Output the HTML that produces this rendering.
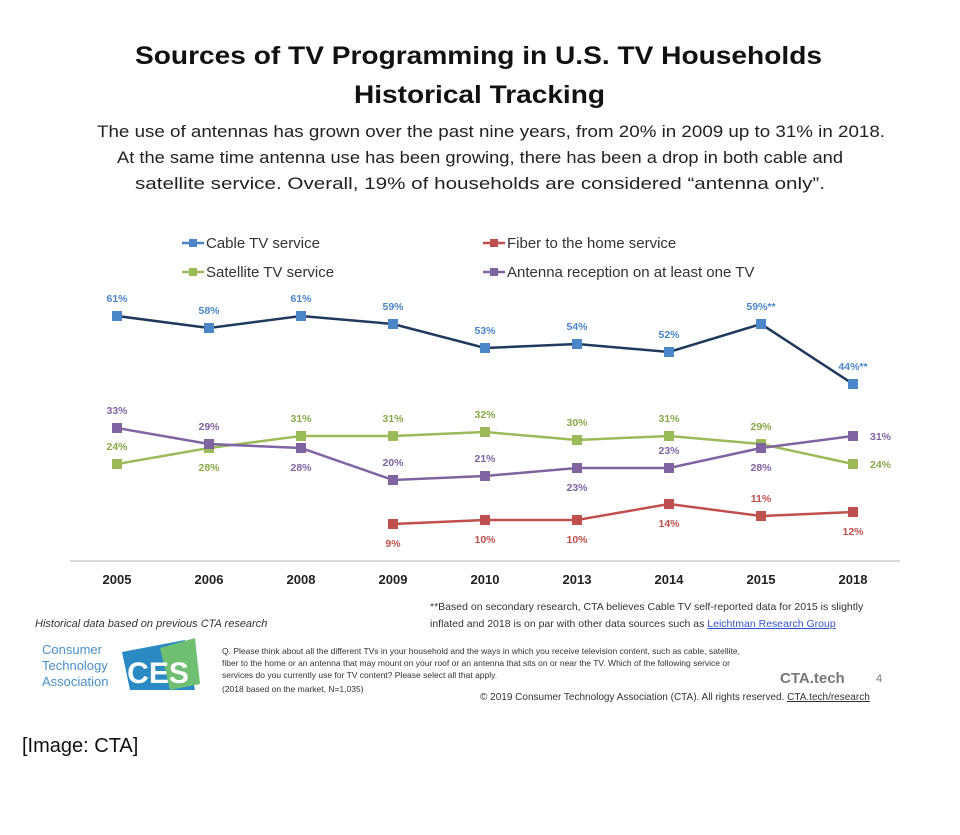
<!DOCTYPE html>
<html><head><meta charset="utf-8">
<style>
body{margin:0;background:#fff;width:960px;height:835px;overflow:hidden;font-family:"Liberation Sans",sans-serif;}
svg{position:absolute;left:0;top:0}
</style></head>
<body>
<svg id="chart" width="960" height="835">
<text x="135" y="64" textLength="687" lengthAdjust="spacingAndGlyphs" font-size="25" font-weight="bold" fill="#111">Sources of TV Programming in U.S. TV Households</text>
<text x="354" y="103" textLength="251" lengthAdjust="spacingAndGlyphs" font-size="25" font-weight="bold" fill="#111">Historical Tracking</text>
<g font-size="17" fill="#222">
<text x="97" y="137" textLength="788" lengthAdjust="spacingAndGlyphs">The use of antennas has grown over the past nine years, from 20% in 2009 up to 31% in 2018.</text>
<text x="117" y="163" textLength="726" lengthAdjust="spacingAndGlyphs">At the same time antenna use has been growing, there has been a drop in both cable and</text>
<text x="135" y="189" textLength="690" lengthAdjust="spacingAndGlyphs">satellite service. Overall, 19% of households are considered “antenna only”.</text>
</g>
<g id="legend" font-size="15" fill="#333"></g>
<line x1="70" y1="561" x2="900" y2="561" stroke="#ccc" stroke-width="1.5"/>
<g id="xticks" font-size="13" font-weight="bold" fill="#222" text-anchor="middle"></g>
<g id="series"></g>
<text x="35" y="627" font-size="11" font-style="italic" fill="#333">Historical data based on previous CTA research</text>
<g font-size="10.5" fill="#333">
<text x="430" y="610">**Based on secondary research, CTA believes Cable TV self-reported data for 2015 is slightly</text>
<text x="430" y="627">inflated and 2018 is on par with other data sources such as <tspan fill="#3355cc" text-decoration="underline">Leichtman Research Group</tspan></text>
</g>
<g>
<text x="42" y="654" font-size="13" fill="#4a90c8">Consumer</text>
<text x="42" y="670" font-size="13" fill="#4a90c8">Technology</text>
<text x="42" y="686" font-size="13" fill="#4a90c8">Association</text>
<polygon points="122,652 185,640 195,690 130,690" fill="#2b8ac4"/>
<polygon points="160,648 195,638 200,684 170,690" fill="#6fbf73"/>
<text x="158" y="683" font-size="30" font-weight="bold" fill="#fff" text-anchor="middle">CES</text>
</g>
<g font-size="8.5" fill="#333">
<text x="222" y="654">Q. Please think about all the different TVs in your household and the ways in which you receive television content, such as cable, satellite,</text>
<text x="222" y="666">fiber to the home or an antenna that may mount on your roof or an antenna that sits on or near the TV. Which of the following service or</text>
<text x="222" y="678">services do you currently use for TV content? Please select all that apply.</text>
<text x="222" y="692">(2018 based on the market, N=1,035)</text>
</g>
<text x="780" y="683" font-size="15" font-weight="bold" fill="#777">CTA.tech</text>
<text x="876" y="682" font-size="11" fill="#777">4</text>
<text x="480" y="700" font-size="10" fill="#333">© 2019 Consumer Technology Association (CTA). All rights reserved. <tspan text-decoration="underline">CTA.tech/research</tspan></text>
<text x="22" y="752" font-size="20" fill="#111">[Image: CTA]</text>
</svg>
<script>
const categories=["2005","2006","2008","2009","2010","2013","2014","2015","2018"];
const cableValues=[61,58,61,59,53,54,52,59,44];
const satelliteValues=[24,28,31,31,32,30,31,29,24];
const fiberValues=[null,null,null,9,10,10,14,11,12];
const antennaValues=[33,29,28,20,21,23,23,28,31];
const cableLabelPos=["a","a","a","a","a","a","a","a","a"];
const satelliteLabelPos=["a","b","a","a","a","a","a","a","r"];
const fiberLabelPos=[null,null,null,"b","b","b","b","a","b"];
const antennaLabelPos=["a","a","b","a","a","b","a","b","r"];
const cableSuffix=["","","","","","","","**","**"];
const NS="http://www.w3.org/2000/svg";
function xs(i){return 117+i*92;}
function ys(v){return 560-4*v;}
function mk(tag,attrs,parent){const e=document.createElementNS(NS,tag);for(const k in attrs)e.setAttribute(k,attrs[k]);parent.appendChild(e);return e;}
const xt=document.getElementById('xticks');
categories.forEach((c,i)=>{const t=mk('text',{x:xs(i),y:584},xt);t.textContent=c;

});
const series=[
 {name:'cable',vals:cableValues,pos:cableLabelPos,line:'#1f3a5f',mark:'#4a86c8',txt:'#4a86c8',label:'Cable TV service',suf:cableSuffix},
 {name:'satellite',vals:satelliteValues,pos:satelliteLabelPos,line:'#9bbb59',mark:'#9bbb59',txt:'#8aa84a',label:'Satellite TV service'},
 {name:'fiber',vals:fiberValues,pos:fiberLabelPos,line:'#c0504d',mark:'#c0504d',txt:'#c0504d',label:'Fiber to the home service'},
 {name:'antenna',vals:antennaValues,pos:antennaLabelPos,line:'#8064a2',mark:'#8064a2',txt:'#8064a2',label:'Antenna reception on at least one TV'}];
const sg=document.getElementById('series');
series.forEach(s=>{
 const g=mk('g',{},sg);
 
 
 let d='';s.vals.forEach((v,i)=>{if(v==null)return;d+=(d?'L':'M')+xs(i)+','+ys(v);});
 const p=mk('path',{d:d,fill:'none',stroke:s.line,'stroke-width':2.5},g);
 
 
 s.vals.forEach((v,i)=>{if(v==null)return;
  const r=mk('rect',{x:xs(i)-5,y:ys(v)-5,width:10,height:10,fill:s.mark},g);
  
  
  const pos=s.pos[i];let tx=xs(i),ty=ys(v)-14,anc='middle';
  if(pos==='b')ty=ys(v)+23;
  if(pos==='r'){tx=xs(i)+17;ty=ys(v)+4;anc='start';}
  const t=mk('text',{x:tx,y:ty,'text-anchor':anc,'font-size':10.5,'font-weight':'bold',fill:s.txt},g);
  t.textContent=v+'%'+(s.suf?s.suf[i]:'');
  
  
 });
});
const lg=document.getElementById('legend');
const lp=[[182,248],[182,277],[483,248],[483,277]];
series.forEach((s,i)=>{
 const g=mk('g',{},lg);
 
 
 mk('line',{x1:lp[i][0],y1:lp[i][1]-5,x2:lp[i][0]+22,y2:lp[i][1]-5,stroke:s.mark,'stroke-width':2.5},g);
 mk('rect',{x:lp[i][0]+7,y:lp[i][1]-9,width:8,height:8,fill:s.mark},g);
 const t=mk('text',{x:lp[i][0]+24,y:lp[i][1]},g);t.textContent=s.label;
});
</script>
</body></html>
